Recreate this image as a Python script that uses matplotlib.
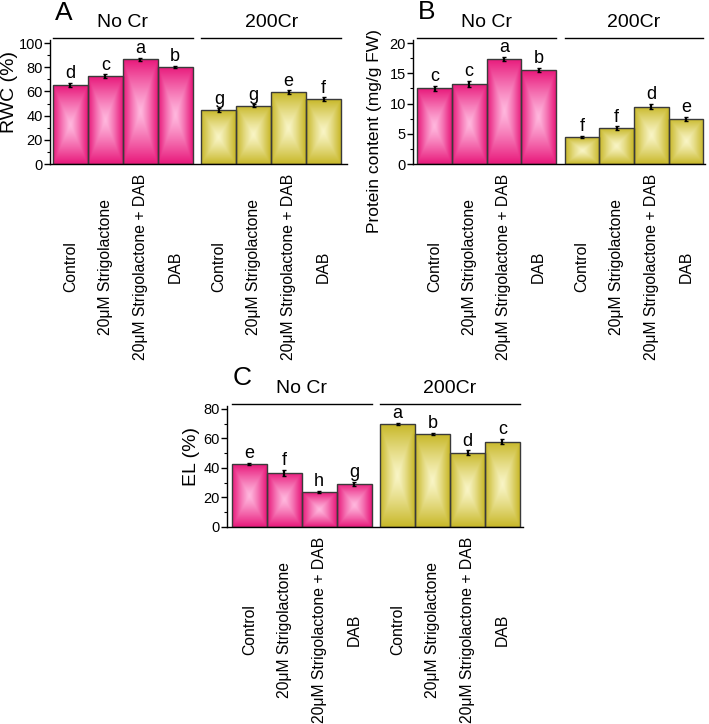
import numpy as np
import matplotlib
matplotlib.use('Agg')
import matplotlib.pyplot as plt
from matplotlib.colors import to_rgb

plt.rcParams['font.family'] = ['Liberation Sans', 'DejaVu Sans']

treatments = ['Control', '20μM Strigolactone', '20μM Strigolactone + DAB', 'DAB']
groups = ['No Cr', '200Cr']

rwc = [65.3, 72.5, 86.5, 80.2, 44.4, 48.2, 59.5, 53.5]
rwc_err = [1.5, 1.5, 1.2, 1.2, 1.5, 1.2, 1.5, 1.5]
rwc_sig = ['d', 'c', 'a', 'b', 'g', 'g', 'e', 'f']

protein = [12.5, 13.3, 17.4, 15.5, 4.45, 5.9, 9.5, 7.5]
protein_err = [0.45, 0.5, 0.35, 0.35, 0.2, 0.3, 0.45, 0.35]
protein_sig = ['c', 'c', 'a', 'b', 'f', 'f', 'd', 'e']

el = [42.5, 36.6, 23.7, 29.2, 69.8, 63.0, 50.4, 57.8]
el_err = [0.8, 2.0, 0.8, 1.2, 1.0, 0.8, 1.5, 1.8]
el_sig = ['e', 'f', 'h', 'g', 'a', 'b', 'd', 'c']

W, H = 709, 724
PINK = ('#e8197b', '#ffb8de')
YELLOW = ('#c8b829', '#f9f5c6')


def gradient_bar(ax, patch, dark, light):
    # rectangular gradient: light centre, dark edges
    nx, ny = 40, 80
    u = np.linspace(-1, 1, nx)
    v = np.linspace(-1, 1, ny)
    uu, vv = np.meshgrid(u, v)
    t = np.maximum(np.abs(uu), np.abs(vv)) ** 1.2
    d = np.array(to_rgb(dark))
    l = np.array(to_rgb(light))
    img = l[None, None, :] + (d - l)[None, None, :] * t[:, :, None]
    x0 = patch.get_x()
    x1 = x0 + patch.get_width()
    y1 = patch.get_height()
    im = ax.imshow(img, extent=[x0, x1, 0, y1], aspect='auto',
                   zorder=1, interpolation='bilinear')
    im.set_clip_path(patch)


def panel(rect, vals, errs, sig, ylim, ystep, yminor, letter, letter_xy,
          ylabel, ylabel_xy, ylabel_size):
    ax = plt.gcf().add_axes([rect[0] / W, 1 - rect[1] / H,
                             rect[2] / W, rect[3] / H])
    x = np.array([0, 1, 2, 3, 4.25, 5.25, 6.25, 7.25])
    bars = ax.bar(x, vals, width=1, facecolor='none', edgecolor='#3a3a3a',
                  lw=1.0, zorder=2)
    for i, b in enumerate(bars):
        dark, light = PINK if i < 4 else YELLOW
        gradient_bar(ax, b, dark, light)
    ax.errorbar(x, vals, yerr=errs, fmt='none', ecolor='black', elinewidth=1.6,
                capsize=1.5, capthick=1, zorder=3)
    for xi, v, e, s in zip(x, vals, errs, sig):
        ax.annotate(s, (xi, v + e), xytext=(0, 0.5), textcoords='offset points',
                    ha='center', va='bottom', fontsize=13)
    ax.set_xlim(rect[4])
    ax.set_ylim(0, ylim)
    ax.set_yticks(np.arange(0, ylim, ystep))
    ax.set_yticks(np.arange(yminor, ylim, ystep), minor=True)
    ax.set_xticks([])
    for sp in ['top', 'right']:
        ax.spines[sp].set_visible(False)
    ax.spines['left'].set_linewidth(1)
    ax.spines['bottom'].set_linewidth(1)
    ax.tick_params(axis='y', which='major', length=4, width=1, pad=1,
                   labelsize=10.5, colors='black')
    ax.tick_params(axis='y', which='minor', length=2, width=0.8)

    # group bars and headers
    for gi, g in enumerate(groups):
        xs = x[gi * 4:(gi + 1) * 4]
        ax.plot([xs[0] - 0.5, xs[-1] + 0.5], [1.02, 1.02], color='black',
                lw=1, transform=ax.get_xaxis_transform(), clip_on=False)
        ax.annotate(g, ((xs[0] + xs[-1]) / 2, 1.02),
                    xycoords=('data', 'axes fraction'),
                    xytext=(0, 5), textcoords='offset points',
                    ha='center', va='bottom', fontsize=14)
    # rotated treatment labels
    for xi, lab in zip(x, treatments * 2):
        ax.annotate(lab, (xi, 0), xycoords=('data', 'axes fraction'),
                    xytext=(0, -74), textcoords='offset points',
                    rotation=90, ha='center', va='center', fontsize=11.3)
    fig.text(letter_xy[0] / W, 1 - letter_xy[1] / H, letter, fontsize=19,
             ha='left', va='baseline')
    fig.text(ylabel_xy[0] / W, 1 - ylabel_xy[1] / H, ylabel, rotation=90,
             ha='center', va='center', fontsize=ylabel_size)
    return ax


fig = plt.figure(figsize=(W / 100, H / 100), dpi=100)

panel((50, 164, 297, 124, (-0.586, 7.92)), rwc, rwc_err, rwc_sig,
      102.5, 20, 10, 'A', (55, 20), 'RWC (%)', (9, 92), 14)
panel((413, 164, 292, 124, (-0.62, 7.8)), protein, protein_err, protein_sig,
      20.5, 5, 2.5, 'B', (418, 19), 'Protein content (mg/g FW)', (375, 131), 12.5)
panel((227, 527, 296, 121, (-0.64, 7.84)), el, el_err, el_sig,
      82, 20, 10, 'C', (233, 385), 'EL (%)', (191, 457), 14)

plt.savefig('out.png', dpi=100)
plt.close(fig)
